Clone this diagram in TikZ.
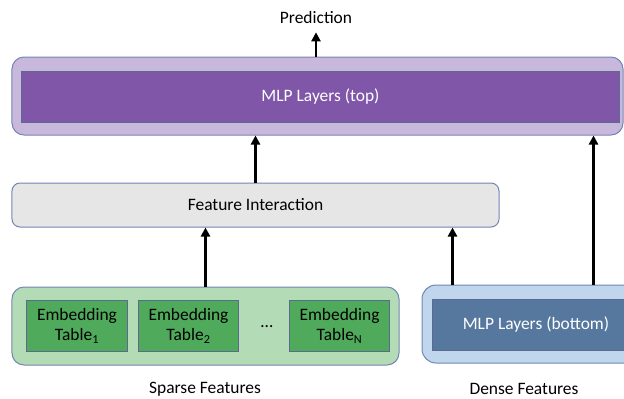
\documentclass[tikz,border=0pt]{standalone}
\usepackage{fontspec}
\setmainfont{Carlito}
\usetikzlibrary{arrows.meta}

\definecolor{outline}{HTML}{7385B3}
\definecolor{lilac}{HTML}{C8B9DC}
\definecolor{plum}{HTML}{8057A8}
\definecolor{greylight}{HTML}{E6E6E6}
\definecolor{mint}{HTML}{B3DBB5}
\definecolor{leaf}{HTML}{4FAA5B}
\definecolor{skyblue}{HTML}{C0D6EC}
\definecolor{slate}{HTML}{56789E}

\begin{document}
\begin{tikzpicture}[x=1bp, y=-1bp,
            every node/.style={font=\fontsize{17.5}{20.5}\selectfont, inner sep=0pt},
            holder/.style={draw=outline, line width=1bp, rounded corners=12bp},
            layer/.style={draw=outline!80!black, line width=1bp},
            flow/.style={-{Triangle[length=9bp, width=9bp]}, line width=2.5bp}]
            \useasboundingbox (0,0) rectangle (624,398);
            \clip (0,0) rectangle (624,398);

            \node (top) at (317.5, 96) [holder, fill=lilac, minimum width=611bp, minimum height=78bp] {};
            \node (topmlp) at (320.5, 96.5) [layer, fill=plum, text=white, minimum width=597bp, minimum height=51bp] {MLP Layers (top)};
            \node (pred) at (316, 18) {Prediction};

            \node (inter) at (255.5, 205) [holder, rounded corners=8bp, fill=greylight, minimum width=487bp, minimum height=44bp] {Feature Interaction};

            \node (sparse) at (205.5, 326) [holder, fill=mint, minimum width=387bp, minimum height=78bp] {};
            \foreach \i/\x in {1/77, 2/188.5, N/339.5} {
                \node (table\i) at (\x, 325.5) [layer, fill=leaf, minimum width=100bp, minimum height=51bp, align=center] {Embedding\\Table\textsubscript{\i}};
            }
            \node (dots) at (267, 327) {\dots};

            \node (dense) at (531, 324) [holder, rounded corners=14bp, fill=skyblue, minimum width=218bp, minimum height=78bp] {};
            \node (densemlp) at (536, 324.5) [layer, fill=slate, text=white, minimum width=208bp, minimum height=51bp] {MLP Layers (bottom)};

            \node (sparselbl) at (205, 389) {Sparse Features};
            \node (denselbl) at (524, 389) {Dense Features};

            \coordinate (d1) at ([xshift=31bp]dense.north west);
            \coordinate (d2) at ([xshift=172bp]dense.north west);

            \draw[flow, shorten >=8bp] (top.north -| pred) -- (pred.south);
            \draw[flow] (inter.north) -- (inter.north |- top.south);
            \draw[flow] (sparse.north) -- (sparse.north |- inter.south);
            \draw[flow] (d1) -- (d1 |- inter.south);
            \draw[flow] (d2) -- (d2 |- top.south);
        \end{tikzpicture}
\end{document}
